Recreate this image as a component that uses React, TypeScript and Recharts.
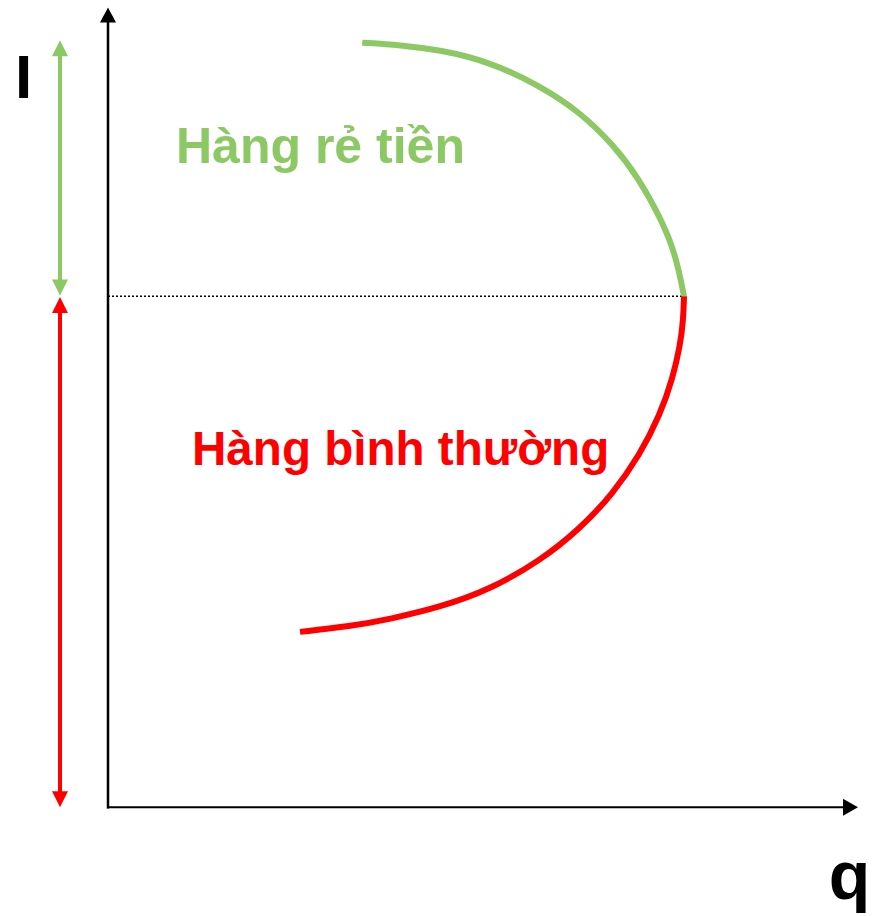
import { LineChart, Line, XAxis, YAxis, ReferenceLine, ReferenceDot } from 'recharts';

// Engel curve: q (quantity) against I (income)
const cheapGoods = [
  { q: 3.39, I: 9.59 },
  { q: 3.89, I: 9.56 },
  { q: 4.43, I: 9.5 },
  { q: 5.09, I: 9.35 },
  { q: 5.76, I: 9.05 },
  { q: 6.29, I: 8.72 },
  { q: 6.73, I: 8.32 },
  { q: 7.09, I: 7.87 },
  { q: 7.36, I: 7.4 },
  { q: 7.52, I: 7.05 },
  { q: 7.61, I: 6.74 },
  { q: 7.68, I: 6.41 },
];

const normalGoods = [
  { q: 2.56, I: 2.2 },
  { q: 3.23, I: 2.27 },
  { q: 3.76, I: 2.36 },
  { q: 4.43, I: 2.51 },
  { q: 5.09, I: 2.73 },
  { q: 5.76, I: 3.09 },
  { q: 6.29, I: 3.49 },
  { q: 6.73, I: 3.93 },
  { q: 7.09, I: 4.42 },
  { q: 7.36, I: 4.92 },
  { q: 7.53, I: 5.38 },
  { q: 7.63, I: 5.8 },
  { q: 7.67, I: 6.11 },
  { q: 7.68, I: 6.41 },
];

const breakLevel = 6.41;
const incomeTop = 9.62;
const axisMax = { q: 10.0, I: 10.03 };
const bracketQ = -0.64;

const labels = ['Hàng rẻ tiền', 'Hàng bình thường'];
const axisTitles = ['I', 'q'];

const GREEN = '#8cc864';
const RED = '#ff0000';
const FONT = '"Liberation Sans", Arial, sans-serif';

const makeArrow = (color: string, w: number, len: number, half: number, both: boolean, cap = 'butt') => (p: any) => {
  const dx = p.x2 - p.x1;
  const dy = p.y2 - p.y1;
  const d = Math.hypot(dx, dy) || 1;
  const ux = dx / d;
  const uy = dy / d;
  const head = (tx: number, ty: number, sx: number, sy: number) =>
    `${tx},${ty} ${tx - sx * len - sy * half},${ty - sy * len + sx * half} ${tx - sx * len + sy * half},${ty - sy * len - sx * half}`;
  const sx1 = both ? p.x1 + ux * (len - 1) : p.x1;
  const sy1 = both ? p.y1 + uy * (len - 1) : p.y1;
  return (
    <g>
      <line x1={sx1} y1={sy1} x2={p.x2 - ux * (len - 1)} y2={p.y2 - uy * (len - 1)} stroke={color} strokeWidth={w} strokeLinecap={cap as any} />
      <polygon points={head(p.x2, p.y2, ux, uy)} fill={color} />
      {both && <polygon points={head(p.x1, p.y1, -ux, -uy)} fill={color} />}
    </g>
  );
};

const makeText = (text: string, color: string, size: number) => (p: any) => (
  <text x={p.cx} y={p.cy} fill={color} fontSize={size} fontWeight="bold" fontFamily={FONT}>
    {text}
  </text>
);

export default function App() {
  return (
    <div style={{ position: 'absolute', left: 0, top: 0, background: '#fff' }}>
      <LineChart width={876} height={916} margin={{ top: 10, right: 18, bottom: 29, left: 33 }}>
        <XAxis dataKey="q" type="number" domain={[-1, 10]} hide allowDataOverflow />
        <YAxis dataKey="I" type="number" domain={[-1, 10]} hide allowDataOverflow />

        <ReferenceLine
          segment={[{ x: 0, y: breakLevel }, { x: cheapGoods[cheapGoods.length - 1].q, y: breakLevel }]}
          stroke="#000"
          strokeWidth={1.5}
          strokeDasharray="2 2"
          ifOverflow="visible"
        />

        <ReferenceLine
          segment={[{ x: 0, y: 0 }, { x: 0, y: axisMax.I }]}
          ifOverflow="visible"
          shape={makeArrow('#000', 2.5, 15, 8, false, 'square')}
        />
        <ReferenceLine
          segment={[{ x: 0, y: 0 }, { x: axisMax.q, y: 0 }]}
          ifOverflow="visible"
          shape={makeArrow('#000', 2, 15, 8.5, false, 'square')}
        />

        <ReferenceLine
          segment={[{ x: bracketQ, y: breakLevel + 0.01 }, { x: bracketQ, y: incomeTop }]}
          ifOverflow="visible"
          shape={makeArrow(GREEN, 4, 16, 8, true)}
        />
        <ReferenceLine
          segment={[{ x: bracketQ, y: 0 }, { x: bracketQ, y: breakLevel - 0.01 }]}
          ifOverflow="visible"
          shape={makeArrow(RED, 4, 16, 8, true)}
        />

        <Line data={cheapGoods} dataKey="I" type="basis" stroke={GREEN} strokeWidth={6} dot={false} activeDot={false} isAnimationActive={false} />
        <Line data={normalGoods} dataKey="I" type="basis" stroke={RED} strokeWidth={6} dot={false} activeDot={false} isAnimationActive={false} />

        <ReferenceDot x={0.907} y={8.08} r={0} ifOverflow="visible" shape={makeText(labels[0], GREEN, 50)} />
        <ReferenceDot x={1.12} y={4.29} r={0} ifOverflow="visible" shape={makeText(labels[1], RED, 47.6)} />
        <ReferenceDot x={-1.24} y={8.9} r={0} ifOverflow="visible" shape={makeText(axisTitles[0], '#000', 62)} />
        <ReferenceDot x={9.61} y={-1.15} r={0} ifOverflow="visible" shape={makeText(axisTitles[1], '#000', 68)} />
      </LineChart>
    </div>
  );
}
